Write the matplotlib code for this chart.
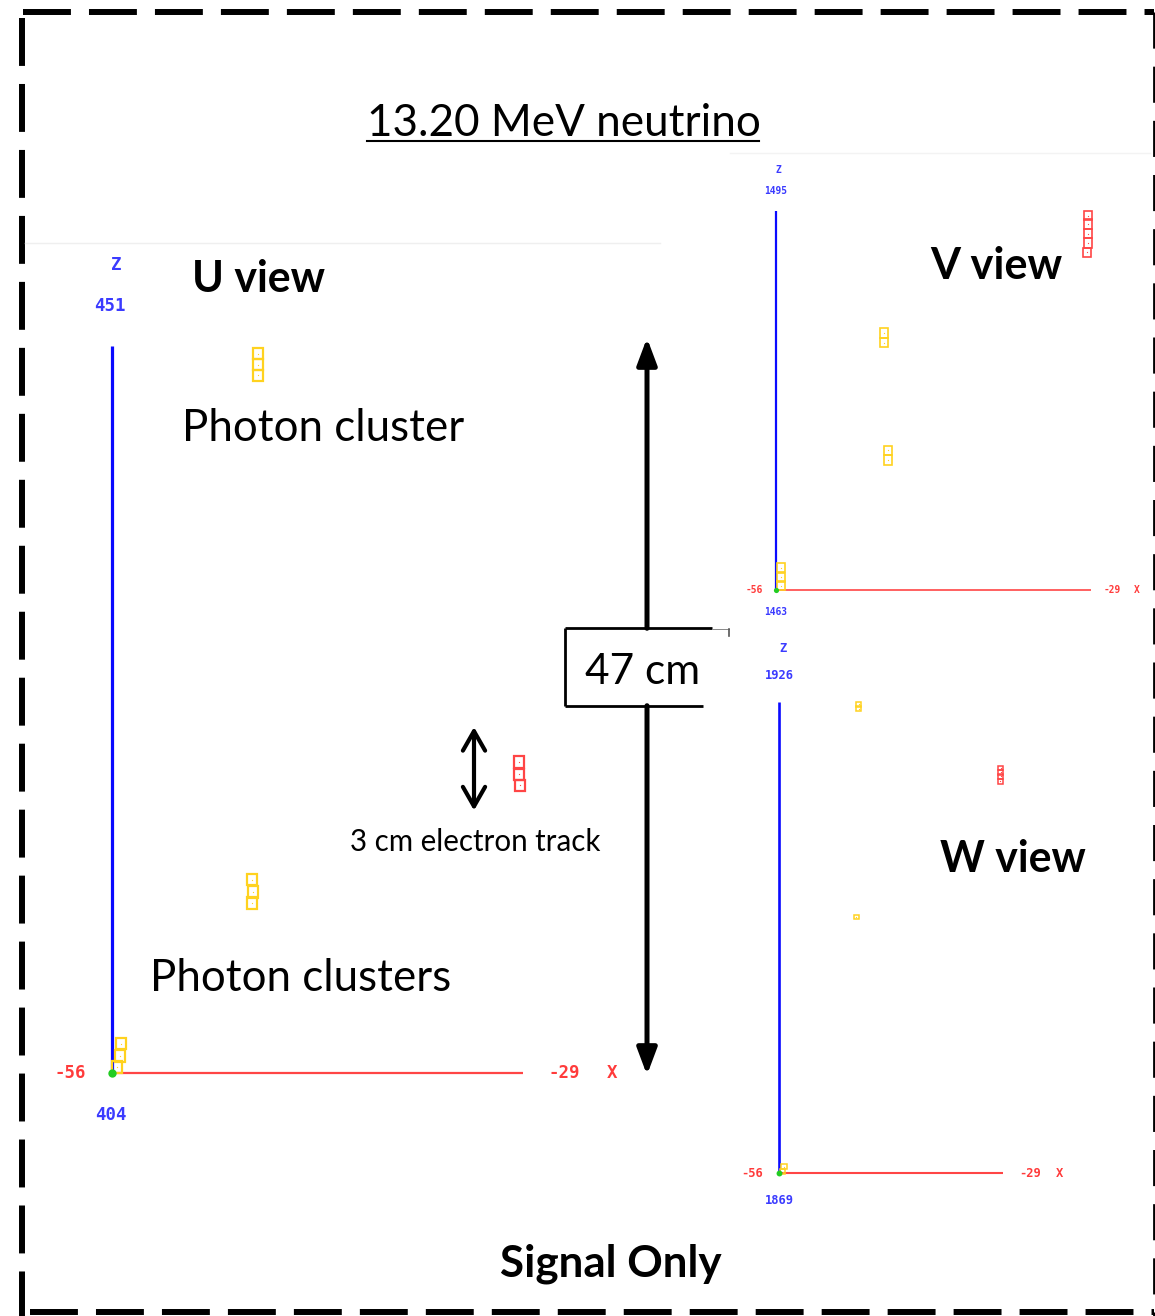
import matplotlib
matplotlib.use("Agg")
import matplotlib.pyplot as plt
from matplotlib.patches import Rectangle

plt.rcParams['lines.scale_dashes'] = False

# ---------------- data ----------------
title = "13.20 MeV neutrino"
view_labels = ["U view", "V view", "W view"]
x_min = [-56, -56, -56]
x_max = [-29, -29, -29]
z_min = [404, 1463, 1869]
z_max = [451, 1495, 1926]

# U view hits (x cm, z cm)
u_photon_x = [-46.4, -46.4, -46.4, -46.8, -46.75, -46.8, -55.38, -55.5, -55.67]
u_photon_z = [450.5, 449.8, 449.1, 416.5, 415.7, 415.0, 405.9, 405.1, 404.4]
u_electron_x = [-29.27, -29.27, -29.2]
u_electron_z = [424.1, 423.3, 422.6]

# V view hits
v_photon_x = [-46.77, -46.77, -46.4, -46.4, -55.55, -55.6, -55.6]
v_photon_z = [1484.7, 1483.9, 1474.8, 1474.0, 1464.9, 1464.1, 1463.4]
v_electron_x = [-29.28, -29.28, -29.28, -29.28, -29.37]
v_electron_z = [1494.6, 1493.9, 1493.1, 1492.3, 1491.5]

# W view hits
w_photon_x = [-46.43, -46.43, -46.73, -55.43, -55.6]
w_photon_z = [1925.7, 1925.2, 1900.0, 1869.8, 1869.2]
w_electron_x = [-29.29, -29.29, -29.29, -29.35]
w_electron_z = [1918.0, 1917.5, 1917.0, 1916.4]

annotation_texts = ["Photon cluster", "Photon clusters", "3 cm electron track", "47 cm"]
footer = "Signal Only"

# ---------------- layout / style ----------------
W_PX, H_PX = 1155, 1316
fig = plt.figure(figsize=(W_PX / 100, H_PX / 100), dpi=100)
bg = fig.add_axes([0, 0, 1, 1])
bg.set_xlim(0, W_PX)
bg.set_ylim(H_PX, 0)
bg.axis('off')
renderer = fig.canvas.get_renderer()

FONT = 'Lato'
YELLOW = '#FFD21F'
RED = '#FF4545'
BLUE_LINE = '#0A0AFF'
BLUE_TXT = '#3B3BFF'
RED_TXT = '#FF3B3B'
GREEN = '#22CC22'


def fit_text(s, x0, x1, y_base, weight='normal'):
    t = bg.text(x0, y_base, s, fontsize=30, fontweight=weight, family=FONT,
                ha='left', va='baseline', color='black')
    w = t.get_window_extent(renderer).width
    t.set_fontsize(30 * (x1 - x0) / w)
    return t


# dashed border
border_kw = dict(color='black', lw=4.3, dashes=(34.5, 13), solid_capstyle='butt',
                 dash_capstyle='butt')
bg.plot([23, 1154], [12, 12], **border_kw)
bg.plot([22, 22], [18, 1316], **border_kw)
bg.plot([1153.5, 1153.5], [12, 1316], color='black', lw=2.0, dashes=(26, 13))
bg.plot([30, 1154], [1312, 1312], **border_kw)

# faint image edges
bg.plot([25, 660], [243, 243], color='#EFEFEF', lw=1)
bg.plot([730, 1150], [153, 153], color='#F3F3F3', lw=1)

# title with underline
fit_text(title, 367, 759, 136)
bg.plot([367, 759], [140.5, 140.5], color='black', lw=1.5)

# view labels
fit_text(view_labels[0], 192, 325, 292, 'bold')
fit_text(view_labels[1], 930, 1062, 279, 'bold')
fit_text(view_labels[2], 940, 1086, 872, 'bold')

# annotations
fit_text(annotation_texts[0], 182, 463, 441)
fit_text(annotation_texts[1], 150, 450, 991)
fit_text(annotation_texts[2], 350, 600, 851)
fit_text(annotation_texts[3], 585, 700, 684)
fit_text(footer, 500, 722, 1276, 'bold')

# 47 cm box (open on the right) and arrow
box_kw = dict(color='black', lw=2.0, solid_capstyle='butt')
bg.plot([565, 712.3], [628.3, 628.3], **box_kw)
bg.plot([565, 565], [628.3, 705.7], **box_kw)
bg.plot([565, 703.3], [705.7, 705.7], **box_kw)
bg.plot([712, 728.5], [629.3, 629.3], color='#888888', lw=0.7)
bg.plot([728.5, 728.5], [629.3, 636], color='#555555', lw=1.2)

big_arrow = dict(arrowstyle='-|>,head_length=0.8,head_width=0.3', lw=3.6, color='black',
                 shrinkA=0, shrinkB=0, mutation_scale=20)
bg.annotate('', xy=(647, 338), xytext=(647, 628.3), arrowprops=big_arrow)
bg.annotate('', xy=(647, 1075), xytext=(647, 705.7), arrowprops=big_arrow)

small_arrow = dict(arrowstyle='<->,head_length=0.7,head_width=0.4', lw=3.0, color='black',
                   shrinkA=0, shrinkB=0, mutation_scale=20)
bg.annotate('', xy=(474, 727), xytext=(474, 810.5), arrowprops=small_arrow)

# ---------------- event views ----------------
# pixel boxes of each view: (left, top, right, bottom)
view_boxes = [(112, 346, 523, 1073), (776, 211, 1091, 590.3), (779.3, 702, 1003.3, 1173.3)]
hit_size = [(0.66, 0.74), (0.69, 0.78), (0.62, 0.54)]
hit_lw = [1.6, 1.2, 1.1]
axis_lw = [(2.3, 1.6), (1.6, 1.2), (1.9, 1.5)]
lab_size = [12.5, 6.9, 8.7]
# offsets (pixels, up positive): Z, zmax, zmin, xmin, xmax, X
lab_off = [
    [(4, 81), (-2, 40), (-1, -42), (-42, 0), (41, 0), (89, 0)],
    [(2.5, 41), (0, 20), (0, -21.5), (-21.5, 0), (21.5, 0), (46, 0)],
    [(3.7, 53), (0, 26.3), (0, -27.7), (-27.3, 0), (26.7, 0), (56.4, 0)],
]
photon_x = [u_photon_x, v_photon_x, w_photon_x]
photon_z = [u_photon_z, v_photon_z, w_photon_z]
electron_x = [u_electron_x, v_electron_x, w_electron_x]
electron_z = [u_electron_z, v_electron_z, w_electron_z]

for i in range(3):
    l, t, r, b = view_boxes[i]
    ax = fig.add_axes([l / W_PX, 1 - b / H_PX, (r - l) / W_PX, (b - t) / H_PX])
    ax.set_xlim(x_min[i], x_max[i])
    ax.set_ylim(z_min[i], z_max[i])
    ax.axis('off')
    ax.patch.set_alpha(0)

    ax.plot([x_min[i], x_min[i]], [z_min[i], z_max[i]], color=BLUE_LINE,
            lw=axis_lw[i][0], clip_on=False, solid_capstyle='butt', zorder=2)
    ax.plot([x_min[i], x_max[i]], [z_min[i], z_min[i]], color=RED,
            lw=axis_lw[i][1], clip_on=False, solid_capstyle='butt', zorder=2)

    w, h = hit_size[i]
    for xs, zs, col in ((photon_x[i], photon_z[i], YELLOW),
                        (electron_x[i], electron_z[i], RED)):
        for x, z in zip(xs, zs):
            ax.add_patch(Rectangle((x - w / 2, z - h / 2), w, h, fill=False,
                                   ec=col, lw=hit_lw[i], clip_on=False, zorder=3))
        ax.scatter(xs, zs, s=0.8, color=col, clip_on=False, zorder=3, linewidths=0)

    ax.scatter([x_min[i]], [z_min[i]], s=[36, 14, 18][i], color=GREEN,
               clip_on=False, zorder=4, linewidths=0)

    off = lab_off[i]
    kw = dict(textcoords='offset pixels', ha='center', va='center',
              family='DejaVu Sans Mono', fontweight='bold', fontsize=lab_size[i],
              annotation_clip=False)
    ax.annotate('Z', (x_min[i], z_max[i]), xytext=off[0], color=BLUE_TXT, **kw)
    ax.annotate(str(z_max[i]), (x_min[i], z_max[i]), xytext=off[1], color=BLUE_TXT, **kw)
    ax.annotate(str(z_min[i]), (x_min[i], z_min[i]), xytext=off[2], color=BLUE_TXT, **kw)
    ax.annotate(str(x_min[i]), (x_min[i], z_min[i]), xytext=off[3], color=RED_TXT, **kw)
    ax.annotate(str(x_max[i]), (x_max[i], z_min[i]), xytext=off[4], color=RED_TXT, **kw)
    ax.annotate('X', (x_max[i], z_min[i]), xytext=off[5], color=RED_TXT, **kw)

fig.savefig('out.png', dpi=100)
